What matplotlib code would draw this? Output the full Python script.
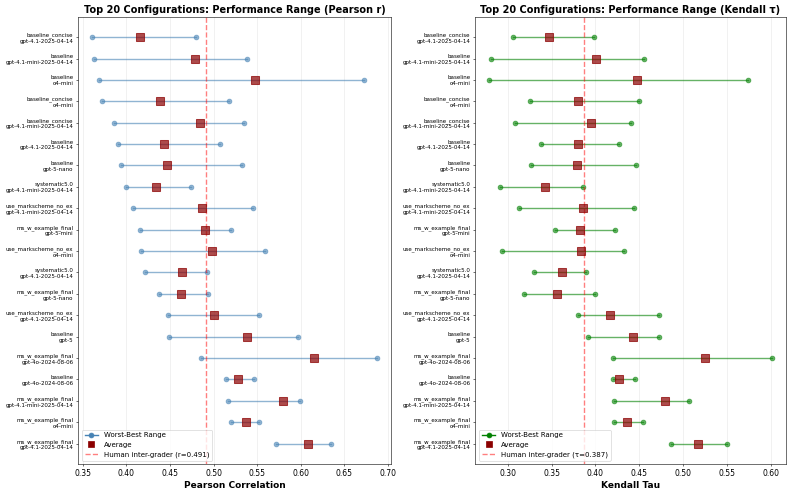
import matplotlib
matplotlib.use('Agg')
import matplotlib.pyplot as plt
from matplotlib.lines import Line2D

configs = [
    "baseline_concise\ngpt-4.1-2025-04-14",
    "baseline\ngpt-4.1-mini-2025-04-14",
    "baseline\no4-mini",
    "baseline_concise\no4-mini",
    "baseline_concise\ngpt-4.1-mini-2025-04-14",
    "baseline\ngpt-4.1-2025-04-14",
    "baseline\ngpt-5-nano",
    "systematic5.0\ngpt-4.1-mini-2025-04-14",
    "use_markscheme_no_ex\ngpt-4.1-mini-2025-04-14",
    "ms_w_example_final\ngpt-5-mini",
    "use_markscheme_no_ex\no4-mini",
    "systematic5.0\ngpt-4.1-2025-04-14",
    "ms_w_example_final\ngpt-5-nano",
    "use_markscheme_no_ex\ngpt-4.1-2025-04-14",
    "baseline\ngpt-5",
    "ms_w_example_final\ngpt-4o-2024-08-06",
    "baseline\ngpt-4o-2024-08-06",
    "ms_w_example_final\ngpt-4.1-mini-2025-04-14",
    "ms_w_example_final\no4-mini",
    "ms_w_example_final\ngpt-4.1-2025-04-14",
]

pearson_min = [0.361, 0.363, 0.369, 0.372, 0.386, 0.390, 0.394, 0.399, 0.407, 0.416,
               0.417, 0.421, 0.437, 0.448, 0.449, 0.485, 0.514, 0.517, 0.520, 0.572]
pearson_avg = [0.415, 0.479, 0.547, 0.439, 0.484, 0.443, 0.447, 0.434, 0.487, 0.490,
               0.498, 0.464, 0.463, 0.501, 0.538, 0.615, 0.528, 0.580, 0.537, 0.608]
pearson_max = [0.480, 0.538, 0.673, 0.518, 0.535, 0.507, 0.533, 0.474, 0.545, 0.520,
               0.559, 0.492, 0.494, 0.552, 0.597, 0.687, 0.546, 0.599, 0.552, 0.635]

kendall_min = [0.306, 0.281, 0.279, 0.325, 0.308, 0.338, 0.327, 0.291, 0.313, 0.354,
               0.293, 0.330, 0.318, 0.380, 0.391, 0.420, 0.420, 0.421, 0.421, 0.486]
kendall_avg = [0.347, 0.401, 0.447, 0.380, 0.395, 0.380, 0.379, 0.342, 0.386, 0.382,
               0.384, 0.362, 0.356, 0.417, 0.443, 0.525, 0.427, 0.479, 0.436, 0.517]
kendall_max = [0.398, 0.455, 0.574, 0.450, 0.441, 0.427, 0.446, 0.386, 0.444, 0.422,
               0.433, 0.389, 0.400, 0.473, 0.473, 0.601, 0.445, 0.507, 0.454, 0.550]

human_pearson = 0.491
human_kendall = 0.387

fig = plt.figure(figsize=(15.86, 9.84), dpi=50)
ax1 = fig.add_axes([0.0987, 0.0569, 0.394, 0.909])
ax2 = fig.add_axes([0.5994, 0.0569, 0.3914, 0.909])

panels = [
    (ax1, pearson_min, pearson_avg, pearson_max, human_pearson, 'steelblue',
     'Top 20 Configurations: Performance Range (Pearson r)', 'Pearson Correlation', 'r'),
    (ax2, kendall_min, kendall_avg, kendall_max, human_kendall, 'green',
     'Top 20 Configurations: Performance Range (Kendall τ)', 'Kendall Tau', 'τ'),
]

for ax, lo, avg, hi, human, col, title, xlabel, sym in panels:
    ypos = list(range(len(configs)))
    for i in ypos:
        ax.plot([lo[i], hi[i]], [i, i], color=col, linewidth=2, alpha=0.6,
                marker='o', markersize=7)
    ax.scatter(avg, ypos, marker='s', s=120, color='darkred', alpha=0.7,
               linewidths=1.5, zorder=3)
    ax.axvline(human, color='red', linestyle='--', linewidth=2, alpha=0.5)
    ax.set_yticks(ypos)
    ax.set_yticklabels(configs, fontsize=8)
    ax.invert_yaxis()
    ax.tick_params(axis='x', labelsize=11)
    ax.set_xlabel(xlabel, fontsize=13, fontweight='bold')
    ax.set_title(title, fontsize=14, fontweight='bold')
    ax.grid(axis='x', alpha=0.3)

    handles = [
        Line2D([0], [0], color=col, linewidth=2, marker='o', markersize=7),
        Line2D([0], [0], color='darkred', marker='s', linestyle='none', markersize=10),
        Line2D([0], [0], color='red', linestyle='--', linewidth=2, alpha=0.5),
    ]
    ax.legend(handles, ['Worst-Best Range', 'Average', f'Human inter-grader ({sym}={human:.3f})'],
              loc='lower left', fontsize=10)

fig.savefig('out.png', dpi=50)
